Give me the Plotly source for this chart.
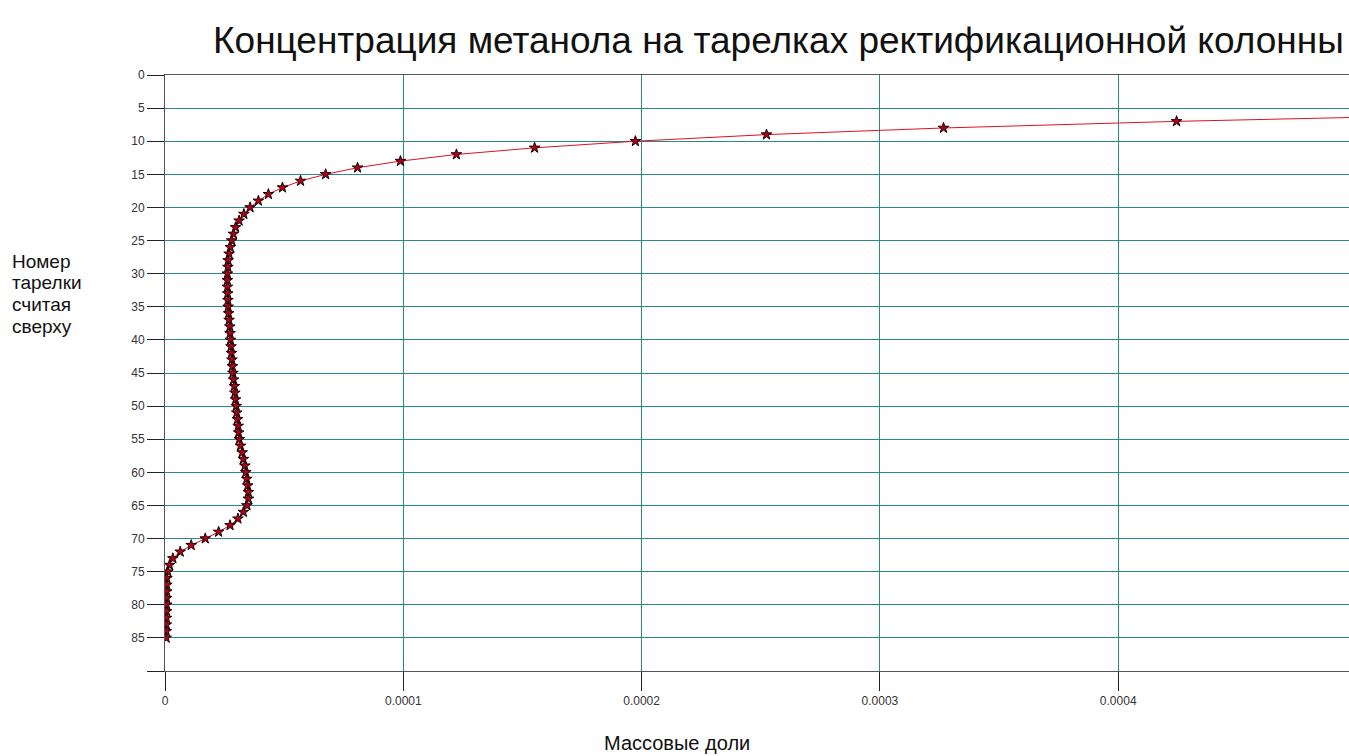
import plotly.graph_objects as go

# Tray numbers counted from the top of the column
trays = list(range(6, 86))

# Methanol mass fraction on each tray
methanol = [
    5.50e-4, 4.245e-4, 3.267e-4, 2.524e-4, 1.974e-4, 1.551e-4, 1.223e-4, 9.88e-5,
    8.08e-5, 6.74e-5, 5.69e-5, 4.93e-5, 4.34e-5, 3.92e-5, 3.57e-5, 3.31e-5,
    3.11e-5, 2.96e-5, 2.87e-5, 2.80e-5, 2.74e-5, 2.69e-5, 2.65e-5, 2.64e-5,
    2.62e-5, 2.62e-5, 2.62e-5, 2.63e-5, 2.64e-5, 2.65e-5, 2.67e-5, 2.69e-5,
    2.72e-5, 2.73e-5, 2.75e-5, 2.77e-5, 2.79e-5, 2.81e-5, 2.83e-5, 2.85e-5,
    2.88e-5, 2.91e-5, 2.93e-5, 2.96e-5, 2.99e-5, 3.01e-5, 3.04e-5, 3.07e-5,
    3.09e-5, 3.12e-5, 3.17e-5, 3.24e-5, 3.29e-5, 3.35e-5, 3.39e-5, 3.43e-5,
    3.47e-5, 3.50e-5, 3.50e-5, 3.44e-5, 3.29e-5, 3.06e-5, 2.73e-5, 2.25e-5,
    1.69e-5, 1.10e-5, 6.4e-6, 3.3e-6, 1.9e-6, 1.2e-6, 8.0e-7, 7.5e-7,
    7.2e-7, 7.0e-7, 6.7e-7, 6.4e-7, 6.0e-7, 5.7e-7, 5.4e-7, 5.0e-7,
]

x_ticks = [0, 0.0001, 0.0002, 0.0003, 0.0004]
x_tick_labels = ["0", "0.0001", "0.0002", "0.0003", "0.0004"]
y_ticks = list(range(0, 95, 5))
y_tick_labels = [str(v) for v in range(0, 90, 5)] + [""]

title_text = "Концентрация метанола на тарелках ректификационной колонны"
x_title = "Массовые доли"
y_title_lines = ["Номер", "тарелки", "считая", "сверху"]

W, H = 1349, 756
L, R, T, B = 165, 0, 75, 85
plot_w = W - L - R
plot_h = H - T - B


def px_x(px):
    return (px - L) / plot_w


def px_y(py):
    return (H - B - py) / plot_h


fig = go.Figure()
fig.add_trace(go.Scatter(
    x=methanol, y=trays,
    mode="lines+markers",
    line=dict(color="#dd1122", width=1),
    marker=dict(symbol="star", size=8, color="#b0001a",
                line=dict(color="#1a0000", width=1)),
    showlegend=False,
))

grid = "#2a8a8a"
axis_col = "#555555"
tick_font = dict(family="Liberation Sans, Arial, sans-serif", size=12, color="#333333")

annotations = [
    dict(text=title_text, xref="paper", yref="paper",
         x=px_x(778), y=px_y(40),
         xanchor="center", yanchor="middle", showarrow=False,
         font=dict(size=37, color="#111111")),
    dict(text=x_title, xref="paper", yref="paper",
         x=px_x(677), y=px_y(743),
         xanchor="center", yanchor="middle", showarrow=False,
         font=dict(size=20, color="#111111")),
]
# Left-hand axis caption, one line per annotation for tight spacing
for i, line in enumerate(y_title_lines):
    annotations.append(dict(
        text=line, xref="paper", yref="paper",
        x=px_x(10), y=px_y(261 + 21.7 * i),
        xanchor="left", yanchor="middle", align="left", showarrow=False,
        font=dict(size=19, color="#111111")))

fig.update_layout(
    width=W, height=H,
    margin=dict(l=L, r=R, t=T, b=B, autoexpand=False),
    paper_bgcolor="white", plot_bgcolor="white",
    font=dict(family="Liberation Sans, Arial, sans-serif", color="#111111"),
    xaxis=dict(
        range=[0, plot_w / 2383000.0],
        tickvals=x_ticks, ticktext=x_tick_labels,
        showgrid=True, gridcolor=grid, gridwidth=1,
        zeroline=False,
        showline=True, linecolor=axis_col, linewidth=1, mirror=True,
        ticks="outside", ticklen=19, tickcolor="#222222", tickwidth=1,
        tickfont=tick_font,
    ),
    yaxis=dict(
        range=[90, 0],
        tickvals=y_ticks, ticktext=y_tick_labels,
        showgrid=True, gridcolor=grid, gridwidth=1,
        zeroline=False,
        showline=True, linecolor=axis_col, linewidth=1,
        ticks="outside", ticklen=17, tickcolor="#222222", tickwidth=1,
        tickfont=tick_font,
    ),
    annotations=annotations,
)

fig.write_html("out.html")
